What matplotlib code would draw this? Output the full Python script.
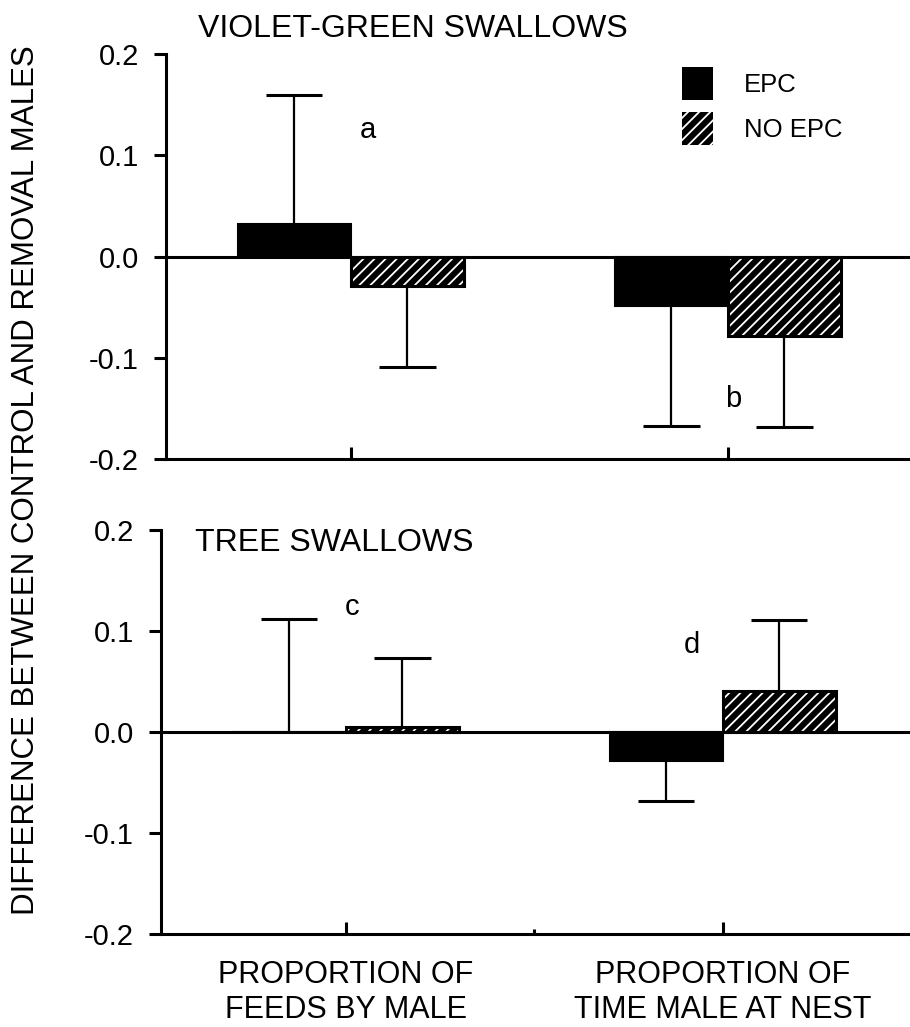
import numpy as np
import matplotlib
matplotlib.use("Agg")
import matplotlib.pyplot as plt
from matplotlib.patches import Patch

plt.rcParams['font.family'] = ['Liberation Sans', 'DejaVu Sans']
plt.rcParams['hatch.linewidth'] = 1.3

# --- data ---
groups = ["PROPORTION OF\nFEEDS BY MALE", "PROPORTION OF\nTIME MALE AT NEST"]
series = ["EPC", "NO EPC"]

# violet-green swallows
vg_epc = [0.032, -0.049]
vg_epc_err = [0.128, 0.118]
vg_noepc = [-0.029, -0.079]
vg_noepc_err = [0.080, 0.089]

# tree swallows
ts_epc = [0.0, -0.029]
ts_epc_err = [0.112, 0.039]
ts_noepc = [0.005, 0.041]
ts_noepc_err = [0.068, 0.070]

y_ticks = [-0.2, -0.1, 0.0, 0.1, 0.2]
y_ticklabels = ["-0.2", "-0.1", "0.0", "0.1", "0.2"]

letters_vg = [("a", 0.045, 0.125), ("b", 1.013, -0.141)]
letters_ts = [("c", 0.016, 0.124), ("d", 0.918, 0.086)]

# --- style ---
BW = 0.30
CAP = 0.15
LW = 2.2
x = np.arange(len(groups))


def err_bars(ax, xs, vals, errs):
    # one-sided error bars pointing away from zero, cap only at the far end
    vals = np.asarray(vals)
    sign = np.where(vals >= 0, 1.0, -1.0)
    ends = vals + sign * np.asarray(errs)
    ax.vlines(xs, vals, ends, color='black', lw=1.6, zorder=1)
    ax.hlines(ends, xs - CAP / 2, xs + CAP / 2, color='black', lw=2.2, zorder=1)


def draw_panel(ax, epc, epc_err, noepc, noepc_err):
    xe = x - BW / 2
    xn = x + BW / 2
    ax.bar(xe, epc, BW, color='black', edgecolor='black', linewidth=1.5, zorder=2)
    # hatched bars: white hatch on black, then a black outline on top
    ax.bar(xn, noepc, BW, color='black', edgecolor='white', hatch='///',
           linewidth=0, zorder=2)
    ax.bar(xn, noepc, BW, fill=False, edgecolor='black', linewidth=2.2, zorder=3)
    err_bars(ax, xe, epc, epc_err)
    err_bars(ax, xn, noepc, noepc_err)
    ax.axhline(0, color='black', lw=LW, zorder=4)

    ax.set_ylim(-0.2, 0.2)
    ax.set_yticks(y_ticks)
    ax.set_yticklabels(y_ticklabels)
    ax.tick_params(axis='y', direction='out', length=8.6, width=LW, pad=11,
                   labelsize=21)
    ax.tick_params(axis='x', direction='in', length=8.6, width=LW)
    ax.set_xticks(x)
    for s in ['top', 'right']:
        ax.spines[s].set_visible(False)
    for s in ['left', 'bottom']:
        ax.spines[s].set_linewidth(LW)


fig = plt.figure(figsize=(9.10, 10.27), dpi=100)
ax1 = fig.add_axes([166 / 910, (1027 - 459) / 1027, 744 / 910, 405 / 1027])
ax2 = fig.add_axes([161 / 910, (1027 - 934) / 1027, 749 / 910, 404 / 1027])

draw_panel(ax1, vg_epc, vg_epc_err, vg_noepc, vg_noepc_err)
draw_panel(ax2, ts_epc, ts_epc_err, ts_noepc, ts_noepc_err)

ax1.set_xlim(-0.49, 1.483)
ax2.set_xlim(-0.49, 1.497)
ax1.set_xticklabels([])
ax2.set_xticks([0.5], minor=True)
ax2.tick_params(axis='x', which='minor', direction='in', length=3.5, width=LW)
ax2.set_xticklabels(groups, fontsize=22, linespacing=1.2)
ax2.tick_params(axis='x', pad=19)

ax1.text(-0.405, 0.225, "VIOLET-GREEN SWALLOWS", fontsize=23, va='center',
         ha='left', clip_on=False)
ax2.text(-0.40, 0.187, "TREE SWALLOWS", fontsize=23, va='center', ha='left')

for ax, letters in [(ax1, letters_vg), (ax2, letters_ts)]:
    for txt, lx, ly in letters:
        ax.text(lx, ly, txt, fontsize=21, ha='center', va='center')

handles = [Patch(facecolor='black', edgecolor='black', linewidth=0),
           Patch(facecolor='black', edgecolor='white', hatch='///', linewidth=0)]
fig.legend(handles, series, loc='upper left', bbox_to_anchor=(682 / 910, 1 - 67 / 1027),
           frameon=False, fontsize=18.5, handlelength=1.2, handleheight=1.6,
           handletextpad=1.2, labelspacing=0.47, borderpad=0, borderaxespad=0)

fig.text(26 / 910, 1 - 480 / 1027, "DIFFERENCE BETWEEN CONTROL AND REMOVAL MALES",
         rotation=90, fontsize=22.5, ha='center', va='center')

fig.savefig("out.png", dpi=100, facecolor='white')
